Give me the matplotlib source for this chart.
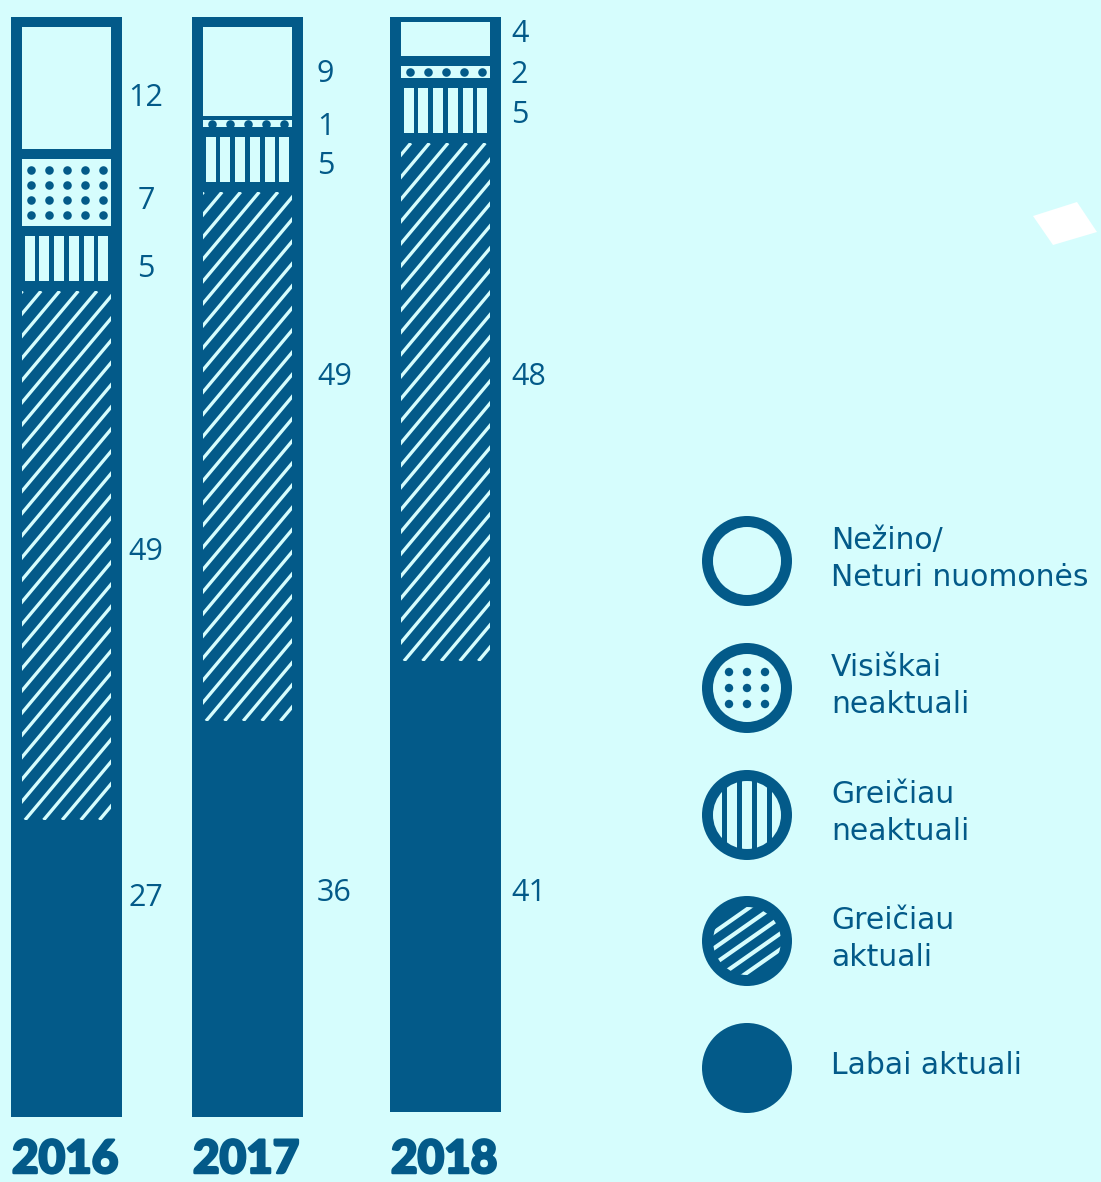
import matplotlib
matplotlib.use('Agg')
import matplotlib.pyplot as plt
from matplotlib.patches import Rectangle, Circle, Polygon
from matplotlib.collections import LineCollection
import matplotlib.patheffects as pe
import numpy as np

# ---------------- data ----------------
years = ['2016', '2017', '2018']
categories = ['Labai aktuali', 'Greičiau\naktuali', 'Greičiau\nneaktuali',
              'Visiškai\nneaktuali', 'Nežino/\nNeturi nuomonės']
labai_aktuali = [27, 36, 41]
greiciau_aktuali = [49, 49, 48]
greiciau_neaktuali = [5, 5, 5]
visiskai_neaktuali = [7, 1, 2]
nezino = [12, 9, 4]

# ---------------- style / layout ----------------
DARK = '#035a89'
BG = '#d6fdfd'
FONT = 'Open Sans'
LEG_FONT = 'DejaVu Sans'
W, H = 1101, 1182
BAR_TOP_PX, BAR_BOT_PX = 17, 1117
PXU = (BAR_BOT_PX - BAR_TOP_PX) / 100.0  # pixels per percent
bar_left = [11, 192, 390]
bar_w = 111
bar_lift = [0.0, 0.0, 0.45]
pad_x = 11
gap_u = 10 / PXU
min_h_u = 7 / PXU
label_anchor = [('center', 24), ('left', 14), ('left', 10)]
label_dy = [[6.43, 0.36, -0.91, -0.73, -0.91],
            [2.36, 7.23, -0.55, -0.36, -0.27],
            [-0.55, 2.27, -0.36, -0.27, 0.45]]

fig = plt.figure(figsize=(W / 100, H / 100), dpi=100)
fig.patch.set_facecolor(BG)

ax = fig.add_axes([0, 1 - BAR_BOT_PX / H, 1, (BAR_BOT_PX - BAR_TOP_PX) / H])
ax.set_xlim(0, W)
ax.set_ylim(0, 100)
ax.axis('off')
ax.patch.set_alpha(0)

series = [labai_aktuali, greiciau_aktuali, greiciau_neaktuali, visiskai_neaktuali, nezino]

theta = np.deg2rad(50)
hatch_s = 18.6

for i, yr in enumerate(years):
    left = bar_left[i]
    cx = left + bar_w / 2
    vals = np.array([s[i] for s in series], dtype=float)
    bottoms = bar_lift[i] + np.concatenate([[0], np.cumsum(vals)[:-1]])
    ax.bar([cx] * len(vals), vals, bottom=bottoms, width=bar_w, color=DARK, linewidth=0)
    xl, xr = left + pad_x, left + bar_w - pad_x
    iw = xr - xl
    ha, dx = label_anchor[i]
    for j in range(len(vals)):
        b = bottoms[j]
        t = b + vals[j]
        if j == 0:
            lb, lt = b, t
        else:
            lb = b
            lt = max(t - gap_u, lb + min_h_u)
        if j == 1:
            run = (lt - lb) * PXU / np.tan(theta)
            ks = np.arange(-int(run / hatch_s) - 2, int(iw / hatch_s) + 2)
            segs = [[(xl + 3 + k * hatch_s, lb), (xl + 3 + k * hatch_s + run, lt)] for k in ks]
            lc = LineCollection(segs, colors=BG, linewidths=2.4, capstyle='butt')
            clip = Rectangle((xl, lb), iw, lt - lb, transform=ax.transData)
            ax.add_collection(lc)
            lc.set_clip_path(clip)
        elif j == 2:
            xs = cx + (np.arange(6) - 2.5) * 14.7
            ax.bar(xs, lt - lb, bottom=lb, width=10, color=BG, linewidth=0)
        elif j == 3:
            ax.bar(cx, lt - lb, bottom=lb, width=iw, color=BG, linewidth=0)
            h_px = (lt - lb) * PXU
            nrows = max(1, int(round(h_px / 15.5)))
            rows = (lb + lt) / 2 + (np.arange(nrows) - (nrows - 1) / 2) * 15.3 / PXU
            cols = cx + (np.arange(5) - 2) * 18
            gx, gy = np.meshgrid(cols, rows)
            ax.scatter(gx.ravel(), gy.ravel(), s=38, color=DARK, linewidths=0, zorder=3)
        elif j == 4:
            ax.bar(cx, lt - lb, bottom=lb, width=iw, color=BG, linewidth=0)
        ly = (lb + lt) / 2 + label_dy[i][j]
        ax.text(left + bar_w + dx, ly, f'{int(vals[j])}', ha=ha, va='center',
                fontsize=22, color=DARK, family=FONT)
    fig.text((left + 1) / W, 1 - 1181 / H, yr, ha='left', va='bottom', fontsize=33,
             fontweight='black', family='Lato', color=DARK,
             path_effects=[pe.withStroke(linewidth=1.8, foreground=DARK)])

# ---------------- legend ----------------
lax = fig.add_axes([0, 0, 1, 1])
lax.set_xlim(0, W)
lax.set_ylim(H, 0)
lax.axis('off')
lax.patch.set_alpha(0)

leg_cx = 747
leg_cy = [561, 688, 815, 941, 1068]
R_out, R_in = 45, 34
leg_labels = [categories[4], categories[3], categories[2], categories[1], categories[0]]
leg_kind = ['empty', 'dots', 'vstripe', 'diag', 'solid']

for cy, lab, kind in zip(leg_cy, leg_labels, leg_kind):
    lax.add_patch(Circle((leg_cx, cy), R_out, color=DARK, lw=0))
    if kind in ('empty', 'dots', 'vstripe'):
        lax.add_patch(Circle((leg_cx, cy), R_in, color=BG, lw=0))
    if kind == 'dots':
        for ox in (-18, 0, 18):
            for oy in (-16, 0, 16):
                lax.add_patch(Circle((leg_cx + ox, cy + oy), 4.2, color=DARK, lw=0))
    elif kind == 'vstripe':
        for ox in (-22.5, -7.5, 7.5, 22.5):
            lax.add_patch(Rectangle((leg_cx + ox - 2.6, cy - R_in), 5.2, 2 * R_in, color=DARK, lw=0))
    elif kind == 'diag':
        ang = np.deg2rad(35)
        d = np.array([np.cos(ang), -np.sin(ang)])
        nrm = np.array([np.sin(ang), np.cos(ang)])
        segs = []
        for off in (-26, -13, 0, 13, 26):
            c = np.array([leg_cx, cy]) + nrm * off
            segs.append([tuple(c - d * 60), tuple(c + d * 60)])
        lc = LineCollection(segs, colors=BG, linewidths=3.0, capstyle='butt')
        lax.add_collection(lc)
        lc.set_clip_path(Circle((leg_cx, cy), R_in, transform=lax.transData))
    lax.text(831, cy - 2, lab, ha='left', va='center', fontsize=21.5, color=DARK,
             family=LEG_FONT, linespacing=1.33)

# decorative white quad (top right)
lax.add_patch(Polygon([(1033, 216), (1077, 202), (1097, 232), (1053, 245)],
                      closed=True, color='white', lw=0))

fig.savefig('out.png', dpi=100, facecolor=BG)
